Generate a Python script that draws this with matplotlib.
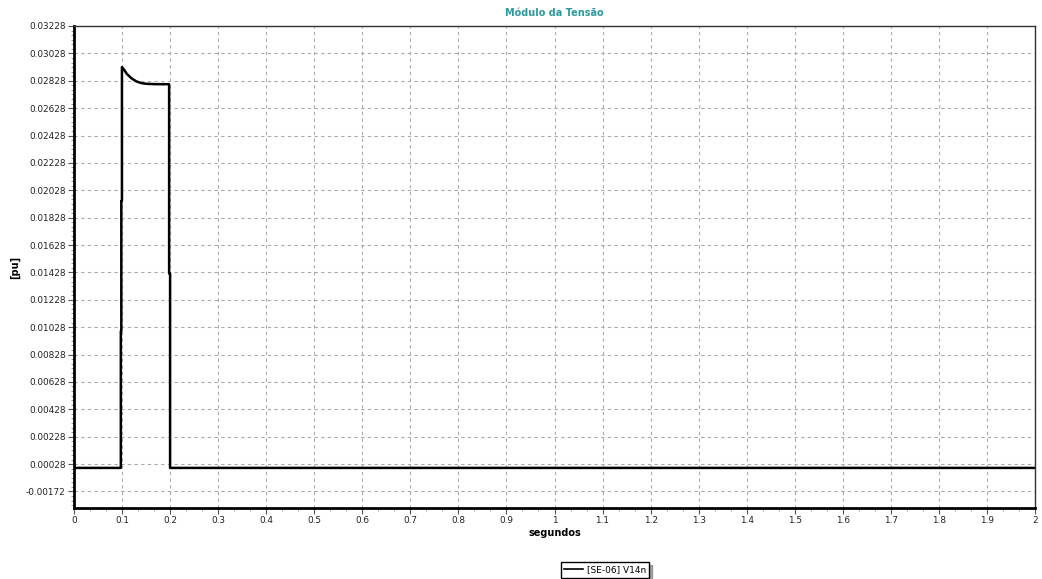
import matplotlib.pyplot as plt
from matplotlib.ticker import FixedLocator, AutoMinorLocator, FuncFormatter

# valores
tempo = [0.0, 0.0975, 0.0975, 0.0985, 0.0985, 0.0998, 0.0998, 0.105, 0.11, 0.12, 0.13,
         0.14, 0.15, 0.17, 0.198, 0.198, 0.2, 0.2, 2.0]
tensao = [0.0, 0.0, 0.0100, 0.0100, 0.0195, 0.0195, 0.02928, 0.02905, 0.02878, 0.02845,
          0.02823, 0.02811, 0.02806, 0.02803, 0.02803, 0.0142, 0.0142, 0.0, 0.0]
serie = "[SE-06] V14n"

y_ticks = [0.03228 - 0.002 * i for i in range(18)]
x_ticks = [i / 10 for i in range(21)]

fig = plt.figure(figsize=(10.42, 5.79), dpi=100)
ax = fig.add_axes([0.071, 0.1226, 0.9223, 0.8325])

ax.plot(tempo, tensao, color="black", lw=1.8, label=serie)

ax.set_xlim(0, 2)
ax.set_ylim(-0.00293, 0.03228)
ax.yaxis.set_major_locator(FixedLocator(y_ticks))
ax.yaxis.set_major_formatter(FuncFormatter(lambda v, p: f"{v:.5f}"))
ax.xaxis.set_major_locator(FixedLocator(x_ticks))
ax.xaxis.set_major_formatter(FuncFormatter(lambda v, p: f"{v:g}"))
ax.xaxis.set_minor_locator(AutoMinorLocator(3))
ax.yaxis.set_minor_locator(AutoMinorLocator(6))

ax.tick_params(which="major", labelsize=6.4, length=4, width=0.8, color="#555555",
               labelcolor="#222222", pad=2)
ax.tick_params(which="minor", length=2, width=0.6, color="#888888")
ax.grid(True, which="major", linestyle=(0, (3, 3)), color="#aaaaaa", lw=0.8)

for s in ["left", "bottom"]:
    ax.spines[s].set_linewidth(2)
for s in ["top", "right"]:
    ax.spines[s].set_linewidth(1)
    ax.spines[s].set_color("#333333")

ax.set_title("Módulo da Tensão", fontsize=7, fontweight="bold", color="#2a9a9e", pad=7)
ax.set_xlabel("segundos", fontsize=7, fontweight="bold", labelpad=2)
ax.set_ylabel("[pu]", fontsize=7, fontweight="bold")
ax.yaxis.set_label_coords(-0.056, 0.5)

leg = fig.legend(loc="lower center", bbox_to_anchor=(0.581, 0.0), fontsize=6.5,
                 frameon=True, fancybox=False,
                 shadow={"ox": 2, "oy": -2, "color": "#555555"},
                 edgecolor="black", handlelength=2.0, borderpad=0.35,
                 borderaxespad=0.15, handletextpad=0.5)
leg.get_lines()[0].set_linewidth(1.2)

fig.savefig("out.png", dpi=100)
